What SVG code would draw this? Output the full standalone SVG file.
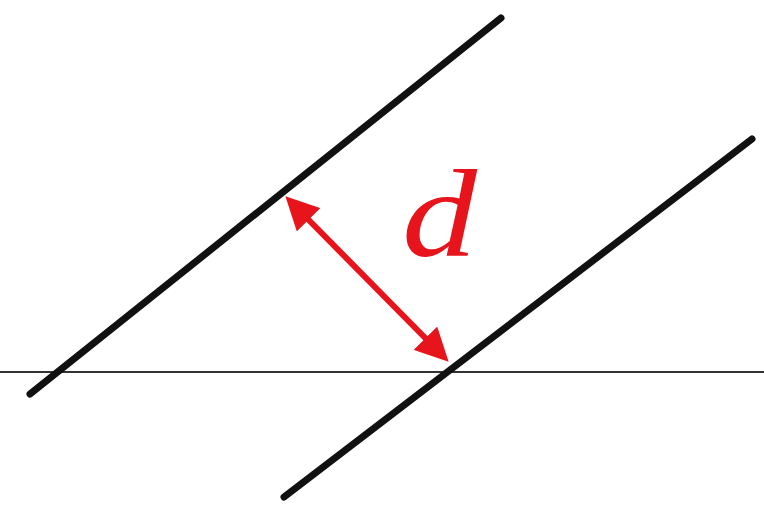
<svg xmlns="http://www.w3.org/2000/svg" width="764" height="527" viewBox="0 0 764 527">
  <defs>
    <style>
      .line { stroke: #111; stroke-width: 7; stroke-linecap: round; fill: none; }
      .axis { stroke: #333; stroke-width: 2; fill: none; }
      .dim { stroke: #e8141c; stroke-width: 6; fill: none; }
      .label { font-family: "Liberation Serif", serif; font-style: italic; font-size: 125px; fill: #e8141c; }
    </style>
    <marker id="ah" viewBox="0 0 10 10" refX="8" refY="5" markerWidth="5.5" markerHeight="5.5" orient="auto-start-reverse" markerUnits="strokeWidth">
      <path d="M0,0 L10,5 L0,10 Z" fill="#e8141c"/>
    </marker>
  </defs>
  <rect width="764" height="527" fill="#ffffff"/>
  <g id="horizontal">
    <line class="axis" x1="0" y1="372" x2="764" y2="372"/>
  </g>
  <g id="line1">
    <line class="line" x1="30" y1="394" x2="501" y2="18"/>
  </g>
  <g id="line2">
    <line class="line" x1="284" y1="497" x2="752" y2="139"/>
  </g>
  <g id="connectors">
    <line class="dim" x1="290" y1="201" x2="444" y2="357" marker-start="url(#ah)" marker-end="url(#ah)"/>
  </g>
  <g id="label-d">
    <text class="label" transform="translate(402,256) scale(1.2,1)" x="0" y="0">d</text>
  </g>
</svg>
